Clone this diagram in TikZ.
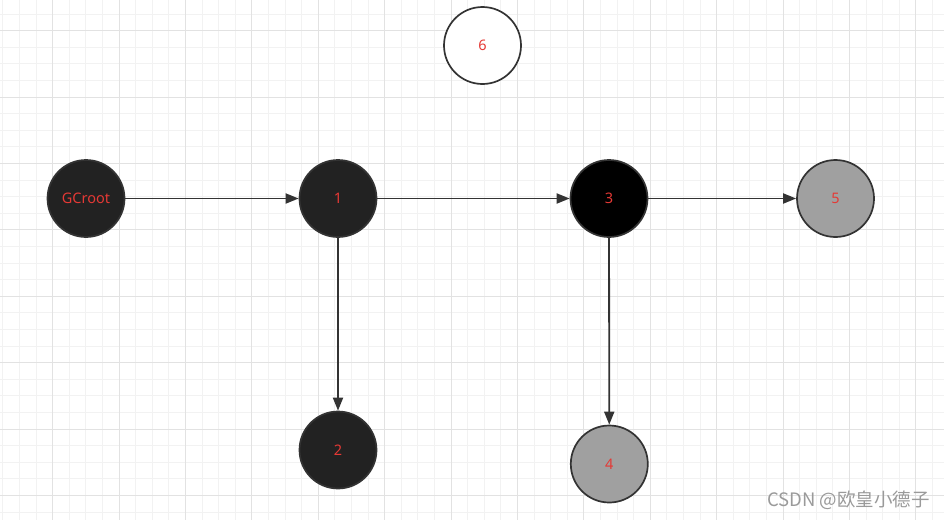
\documentclass[tikz,border=0pt]{standalone}
\usepackage{fontspec}
\setmainfont{Noto Sans}
\newfontfamily\cjk{Noto Sans CJK SC}
\usetikzlibrary{arrows.meta}
\definecolor{gridfine}{HTML}{F2F2F2}
\definecolor{gridmajor}{HTML}{E2E2E2}
\definecolor{edgecol}{HTML}{333333}
\definecolor{txtred}{HTML}{E53935}
\definecolor{darkfill}{HTML}{222222}
\definecolor{grayfill}{HTML}{A0A0A0}
\definecolor{wmark}{HTML}{9A9A9A}
\begin{document}
\begin{tikzpicture}[x=1pt,y=-1pt,
  obj/.style={circle,draw=edgecol,line width=1.7pt,minimum size=77pt,inner sep=0pt,
    text=txtred,font=\fontsize{14.5}{16}\selectfont},
  ref/.style={draw=edgecol,line width=1.8pt,-{Triangle[length=13pt,width=10pt]}}]
\useasboundingbox (0,0) rectangle (944,520);
\fill[white] (0,0) rectangle (944,520);
% fine grid
\foreach \i in {0,...,56} {\draw[gridfine,line width=0.8pt] ({2.7+16.6*\i},0) -- ({2.7+16.6*\i},520);}
\foreach \j in {0,...,31} {\draw[gridfine,line width=0.8pt] (0,{14+16.6*\j}) -- (944,{14+16.6*\j});}
% major grid
\foreach \i in {-1,...,14} {\draw[gridmajor,line width=0.8pt] ({52.5+66.4*\i},0) -- ({52.5+66.4*\i},520);}
\foreach \j in {0,...,7} {\draw[gridmajor,line width=0.8pt] (0,{30.6+66.4*\j}) -- (944,{30.6+66.4*\j});}
% nodes
\node[obj,fill=darkfill] (gc) at (86,198.5) {GCroot};
\node[obj,fill=darkfill] (n1) at (338,198.5) {1};
\node[obj,fill=black] (n3) at (609,198.5) {3};
\node[obj,fill=grayfill] (n5) at (835.5,198.5) {5};
\node[obj,fill=darkfill] (n2) at (338,450) {2};
\node[obj,fill=grayfill] (n4) at (609.3,464) {4};
\node[obj,fill=white] (n6) at (482.5,45.5) {6};
% edges
\draw[ref] (gc) -- (n1);
\draw[ref] (n1) -- (n3);
\draw[ref] (n3) -- (n5);
\draw[ref] (n1) -- (n2);
\draw[ref] (n3) -- (n4);
% watermark
\node[text=wmark,font=\cjk\fontsize{18.5}{20}\selectfont,anchor=east,inner sep=0pt] (wm) at (930,500) {CSDN @欧皇小德子};
\end{tikzpicture}
\end{document}
